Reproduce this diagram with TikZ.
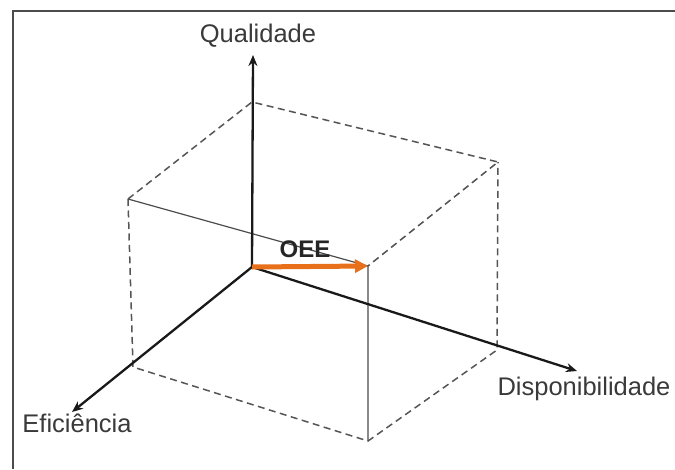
\documentclass[tikz,border=0pt]{standalone}
\usepackage{fontspec}
\setmainfont{Liberation Sans}
\usetikzlibrary{arrows.meta}
\definecolor{txt}{HTML}{3A3A3A}
\definecolor{oee}{HTML}{E8701A}
\definecolor{dashcol}{HTML}{555555}
\tikzset{
  axis/.style={line width=2.3pt, black!90, -{Stealth[length=11pt,width=9pt]}},
  cubedash/.style={line width=1.5pt, dashcol, dash pattern=on 7pt off 4.5pt},
  cubeline/.style={line width=1.2pt, gray!60!black},
  lbl/.style={font=\fontsize{25.5}{30}\selectfont, text=txt, inner sep=0pt, anchor=base},
  frameline/.style={line width=2.2pt, black!70}
}
\begin{document}
\begin{tikzpicture}[x=1pt,y=-1pt]
\useasboundingbox (0,0) rectangle (675,469);
% frame
\draw[frameline] (13,469) -- (13,11) -- (675,11);
% points
\coordinate (O) at (252,267);
\coordinate (T) at (252,102);
\coordinate (LU) at (128,199);
\coordinate (RU) at (498,162);
\coordinate (V) at (368,266);
\coordinate (LL) at (133,367);
\coordinate (B) at (368,441);
\coordinate (RL) at (497,350);
\coordinate (Qt) at (253,55);
\coordinate (Et) at (72,412);
\coordinate (Dt) at (577,371);
% cube
\draw[cubedash] (LU) -- (T) -- (RU) -- (V);
\draw[cubedash] (LU) -- (LL) -- (B) -- (RL) -- (RU);
\draw[cubeline] (LU) -- (V) -- (B);
% axes
\draw[axis] (O) -- (Qt);
\draw[axis] (O) -- (Et);
\draw[axis] (O) -- (Dt);
\draw[line width=5pt, oee, -{Triangle[length=13pt,width=13pt]}] (O) -- (V);
% labels
\node[lbl] (q) at (258,42) {Qualidade};
\node[lbl] (e) at (77,432) {Eficiência};
\node[lbl] (d) at (584,395) {Disponibilidade};
\node[lbl, font=\fontsize{24}{28}\selectfont\bfseries, text=black!85] (oeel) at (305,257) {OEE};
\end{tikzpicture}
\end{document}
